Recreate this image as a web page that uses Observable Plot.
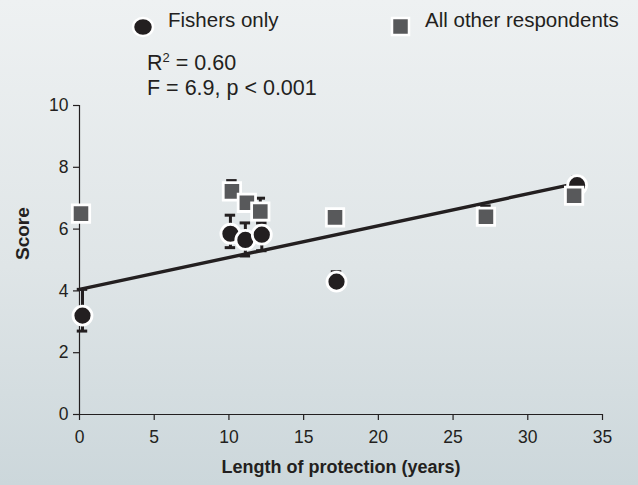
<!DOCTYPE html>
<html>
<head>
<meta charset="utf-8">
<script src="https://cdn.jsdelivr.net/npm/d3@7"></script>
<script src="https://cdn.jsdelivr.net/npm/@observablehq/plot@0.6"></script>
<style>
  html, body { margin: 0; padding: 0; }
  body { width: 638px; height: 485px; overflow: hidden;
         background: linear-gradient(to bottom, #eef1f2 0%, #dfe5e7 55%, #ccd7db 100%);
         font-family: "Liberation Sans", Arial, sans-serif; color: #231f20; }
  #wrap { position: relative; width: 638px; height: 485px; }
  #chart { position: absolute; left: 0; top: 0; }
  .lbl { position: absolute; font-size: 20.5px; line-height: 1; white-space: nowrap; }
  .stat { position: absolute; font-size: 21.5px; line-height: 1; white-space: nowrap; left: 147px; }
  .mk { position: absolute; }
</style>
</head>
<body>
<div id="wrap">
  <div id="chart"></div>
  <svg class="mk" style="left:130px;top:14px" width="26" height="26"><ellipse cx="13" cy="13" rx="10" ry="9" fill="#231f20" stroke="#fff" stroke-width="2.5"/></svg>
  <div class="lbl" style="left:168px;top:10px">Fishers only</div>
  <svg class="mk" style="left:389px;top:15px" width="24" height="24"><rect x="3" y="3" width="17" height="17" fill="#58595b" stroke="#fff" stroke-width="2.5"/></svg>
  <div class="lbl" style="left:425px;top:10px">All other respondents</div>
  <div class="stat" style="top:53px">R<sup style="font-size:13px;vertical-align:8px;line-height:0">2</sup> = 0.60</div>
  <div class="stat" style="top:78px">F = 6.9, p &lt; 0.001</div>
</div>
<script>
// ---- data ----
const fisherX  = [0.2, 10.1, 11.1, 12.2, 17.2, 33.3];
const fisherY  = [3.2, 5.85, 5.65, 5.82, 4.3, 7.42];
const fisherLo = [2.7, 5.4, 5.13, 5.3, 4.3, 7.42];
const fisherHi = [4.05, 6.45, 6.2, 6.2, 4.62, 7.68];

const othersX  = [0.1, 10.2, 11.2, 12.1, 17.1, 27.2, 33.1];
const othersY  = [6.5, 7.22, 6.85, 6.57, 6.38, 6.4, 7.08];
const othersLo = [6.5, 7.22, 6.85, 6.57, 6.38, 6.4, 7.08];
const othersHi = [6.5, 7.57, 6.85, 7.0, 6.38, 6.75, 7.45];

const fitX = [0, 33.2];
const fitY = [4.05, 7.47];

const xTicks = [0, 5, 10, 15, 20, 25, 30, 35];
const yTicks = [0, 2, 4, 6, 8, 10];

const xLabel = "Length of protection (years)";
const yLabel = "Score";

// ---- build tables ----
const fishers = fisherX.map((x, i) => ({x, y: fisherY[i], lo: fisherLo[i], hi: fisherHi[i]}));
const others  = othersX.map((x, i) => ({x, y: othersY[i], lo: othersLo[i], hi: othersHi[i]}));
const fit = fitX.map((x, i) => ({x, y: fitY[i]}));
const all = [...fishers, ...others];
const loBars = all.filter(d => d.lo < d.y);
const hiBars = all.filter(d => d.hi > d.y);
const capHalf = 0.35;
const ink = "#231f20";

const plot = Plot.plot({
  width: 638,
  height: 485,
  marginLeft: 79,
  marginRight: 36,
  marginTop: 105,
  marginBottom: 71,
  style: { background: "transparent", color: ink, overflow: "visible" },
  x: { domain: [0, 35], ticks: xTicks },
  y: { domain: [0, 10], ticks: yTicks },
  marks: [
    Plot.ruleY([0], { stroke: ink, strokeWidth: 1.2 }),
    Plot.ruleX([0], { stroke: ink, strokeWidth: 1.2 }),
    Plot.axisX({ ticks: xTicks, tickSize: 6, tickPadding: 10, stroke: ink, strokeWidth: 1.2,
                 label: xLabel, labelAnchor: "center", labelArrow: "none", labelOffset: 58 }),
    Plot.axisY({ ticks: yTicks, tickSize: 6, tickPadding: 5, stroke: ink, strokeWidth: 1.2,
                 label: null }),
    Plot.text([yLabel], { frameAnchor: "left", dx: -57, rotate: -90, fill: ink }),
    // error bars
    Plot.ruleX(loBars, { x: "x", y1: "lo", y2: "y", stroke: ink, strokeWidth: 3 }),
    Plot.ruleX(hiBars, { x: "x", y1: "y", y2: "hi", stroke: ink, strokeWidth: 3 }),
    Plot.ruleY(hiBars, { y: "hi", x1: d => d.x - capHalf, x2: d => d.x + capHalf, stroke: ink, strokeWidth: 3 }),
    Plot.ruleY(loBars, { y: "lo", x1: d => d.x - capHalf, x2: d => d.x + capHalf, stroke: ink, strokeWidth: 3 }),
    // regression line
    Plot.line(fit, { x: "x", y: "y", stroke: ink, strokeWidth: 3.4 }),
    // markers
    Plot.dot(fishers, { x: "x", y: "y", r: 9.5, fill: ink, stroke: "#fff", strokeWidth: 2.8 }),
    Plot.dot(others, { x: "x", y: "y", symbol: "square", r: 9.8, fill: "#58595b", stroke: "#fff", strokeWidth: 2.8 })
  ]
});
// text styling (inline so it wins over Plot's defaults)
plot.querySelectorAll("text").forEach(t => {
  t.style.fontFamily = "'Liberation Sans', Arial, sans-serif";
  t.style.fill = ink;
  const s = t.textContent;
  if (s === xLabel) {
    t.style.fontSize = "18px";
    t.style.fontWeight = "bold";
  } else if (s === yLabel) {
    t.style.fontSize = "19px";
    t.style.fontWeight = "bold";
  } else {
    t.style.fontSize = "17.5px";
  }
});
document.getElementById("chart").appendChild(plot);
</script>
</body>
</html>
